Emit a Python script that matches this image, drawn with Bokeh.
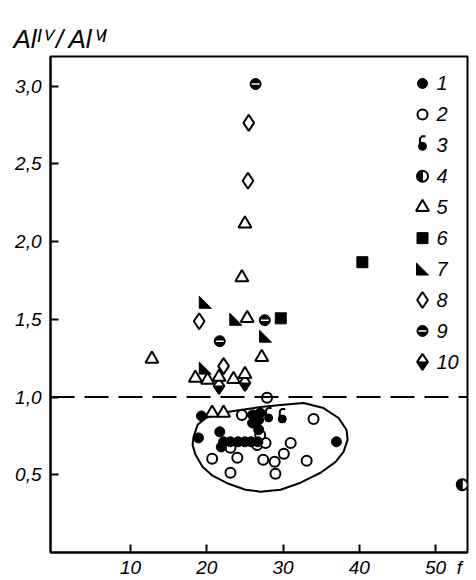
import numpy as np
from bokeh.plotting import figure
from bokeh.models import Span, FixedTicker
from bokeh.embed import file_html
from bokeh.resources import INLINE
from bokeh.core.properties import value

# ---------------- data ----------------
x_ticks = [10, 20, 30, 40, 50]
x_tick_labels = ["10", "20", "30", "40", "\u00a0\u00a0\u00a050\u00a0\u00a0f"]
y_ticks = [0.5, 1.0, 1.5, 2.0, 2.5, 3.0]
y_tick_labels = ["0,5", "1,0", "1,5", "2,0", "2,5", "3,0"]
y_title = "Al\u1d35\u2c7d\u2009/\u2009Al\u2c7d\u1d35"
threshold = 1.0

s1_x = [19.3, 18.9, 21.7, 21.9, 26.0, 26.8, 26.0, 27.0, 22.2, 23.1, 24.1, 25.0, 25.8, 26.7, 26.8, 37.0]
s1_y = [0.878, 0.737, 0.776, 0.679, 0.885, 0.853, 0.833, 0.897, 0.712, 0.712, 0.712, 0.712, 0.712, 0.712, 0.790, 0.712]

s2_x = [27.9, 24.6, 34.0, 23.1, 20.7, 24.0, 23.1, 26.6, 27.7, 31.0, 30.1, 28.9, 27.4, 29.0, 33.1, 27.0]
s2_y = [0.996, 0.885, 0.859, 0.673, 0.603, 0.609, 0.513, 0.692, 0.705, 0.705, 0.635, 0.583, 0.596, 0.506, 0.590, 0.756]

s3_x = [28.1, 29.9]
s3_y = [0.872, 0.865]

s4_x = [53.5]
s4_y = [0.436]

s5_x = [25.0, 24.6, 25.3, 27.2, 12.8, 18.5, 20.1, 21.6, 23.5, 25.0, 20.7, 22.2]
s5_y = [2.115, 1.769, 1.506, 1.256, 1.244, 1.122, 1.109, 1.128, 1.115, 1.147, 0.897, 0.897]

s6_x = [29.7, 40.4]
s6_y = [1.506, 1.867]

s7_x = [19.8, 23.8, 27.7, 19.8]
s7_y = [1.609, 1.500, 1.391, 1.186]

s8_x = [25.5, 25.4, 19.0, 22.2]
s8_y = [2.763, 2.391, 1.487, 1.199]

s9_x = [26.4, 27.6, 21.7]
s9_y = [3.013, 1.494, 1.359]

s10_x = [21.6, 25.0]
s10_y = [1.071, 1.090]

env_x = [18.26, 18.79, 19.84, 21.80, 24.43, 27.05, 29.67, 32.69, 35.31, 37.28, 38.33, 38.46,
         37.93, 36.89, 34.92, 32.30, 29.67, 27.05, 25.08, 22.85, 20.75, 19.44, 18.52, 18.13, 18.26]
env_y = [0.744, 0.821, 0.865, 0.897, 0.917, 0.936, 0.949, 0.962, 0.929, 0.865, 0.788, 0.724,
         0.647, 0.583, 0.513, 0.449, 0.404, 0.391, 0.404, 0.442, 0.494, 0.551, 0.628, 0.692, 0.744]

legend_labels = ["1", "2", "3", "4", "5", "6", "7", "8", "9", "10"]

# ---------------- geometry ----------------
W, H = 476, 580
BL, BR, BT, BB = 50, 9, 56, 27
X0 = -0.5
FW = W - BL - BR
FH = H - BT - BB
PX_X = 7.625
X1 = X0 + FW / PX_X
Y0, Y1 = 0.0, 3.19
PX_Y = FH / (Y1 - Y0)

FONT = "Liberation Sans"


def dx(n):
    return n / PX_X


def dy(n):
    return n / PX_Y


def page_x(px):
    return X0 + (px - BL) / PX_X


def page_y(py):
    return Y1 - (py - BT) / PX_Y


p = figure(width=W, height=H, x_range=(X0, X1), y_range=(Y0, Y1),
           min_border_left=BL, min_border_right=BR, min_border_top=BT, min_border_bottom=BB,
           output_backend="svg", toolbar_location=None)
p.background_fill_color = "white"
p.border_fill_color = "white"
p.outline_line_color = "black"
p.outline_line_width = 2
p.xgrid.visible = False
p.ygrid.visible = False

p.title.text = y_title
p.title.text_font = FONT
p.title.text_font_style = "italic"
p.title.text_font_size = "26px"
p.title.text_color = "black"
p.title.align = "left"
p.title.offset = -37
p.title.standoff = 6

for ax in (p.xaxis[0], p.yaxis[0]):
    ax.axis_line_width = 2
    ax.axis_line_color = "black"
    ax.major_tick_in = 8
    ax.major_tick_out = 0
    ax.major_tick_line_width = 2
    ax.minor_tick_line_color = None
    ax.major_label_text_font = FONT
    ax.major_label_text_font_style = "italic"
    ax.major_label_text_font_size = "19px"
    ax.major_label_text_color = "black"

p.xaxis.ticker = FixedTicker(ticks=x_ticks)
p.xaxis.major_label_overrides = {t: s for t, s in zip(x_ticks, x_tick_labels)}
p.xaxis.major_label_standoff = 4
p.yaxis.ticker = FixedTicker(ticks=y_ticks)
p.yaxis.major_label_overrides = {t: s for t, s in zip(y_ticks, y_tick_labels)}
p.yaxis.major_label_standoff = 9

# dashed threshold line
p.add_layout(Span(location=threshold, dimension="width", line_color="black",
                  line_width=2, line_dash="24 10"))

# envelope
p.line(env_x, env_y, line_color="black", line_width=2)

LW = 2


def draw(kind, xs, ys):
    xs = list(xs)
    ys = list(ys)
    if kind == 1:
        p.scatter(xs, ys, marker="circle", size=10, fill_color="black", line_color="black", line_width=1)
    elif kind == 2:
        p.scatter(xs, ys, marker="circle", size=10, fill_color="white", line_color="black", line_width=LW)
    elif kind == 3:
        p.scatter(xs, [y - dy(1) for y in ys], marker="circle", size=8, fill_color="black", line_color="black")
        tx = [[x + dx(a) for a in (-2.5, -2.5, -0.5, 3)] for x in xs]
        ty = [[y + dy(b) for b in (0, 7, 9, 9)] for y in ys]
        p.multi_line(tx, ty, line_color="black", line_width=2)
    elif kind == 4:
        p.scatter(xs, ys, marker="circle", size=11, fill_color="white", line_color="black", line_width=LW)
        p.wedge(x=xs, y=ys, radius=5.5, radius_units="screen", start_angle=np.pi / 2,
                end_angle=3 * np.pi / 2, fill_color="black", line_color="black")
    elif kind == 5:
        p.scatter(xs, ys, marker="triangle", size=13, fill_color="white", line_color="black", line_width=LW)
    elif kind == 6:
        p.scatter(xs, ys, marker="square", size=11, fill_color="black", line_color="black")
    elif kind == 7:
        h = 6
        pxs = [[x - dx(h), x - dx(h), x + dx(h)] for x in xs]
        pys = [[y + dy(h), y - dy(h), y - dy(h)] for y in ys]
        p.patches(pxs, pys, fill_color="black", line_color="black", line_width=1)
    elif kind == 8:
        p.scatter(xs, ys, marker="diamond", size=16, fill_color="white", line_color="black", line_width=LW)
    elif kind == 9:
        p.scatter(xs, ys, marker="circle", size=11, fill_color="black", line_color="black")
        p.scatter(xs, ys, marker="dash", size=8, line_color="white", line_width=1.5)
    elif kind == 10:
        p.scatter(xs, ys, marker="diamond", size=16, fill_color="white", line_color="black", line_width=LW)
        w = 16 / 1.5 / 2
        h = 8
        pxs = [[x - dx(w), x + dx(w), x] for x in xs]
        pys = [[y, y, y - dy(h)] for y in ys]
        p.patches(pxs, pys, fill_color="black", line_color="black", line_width=1)


series = {1: (s1_x, s1_y), 2: (s2_x, s2_y), 3: (s3_x, s3_y), 4: (s4_x, s4_y),
          5: (s5_x, s5_y), 6: (s6_x, s6_y), 7: (s7_x, s7_y), 8: (s8_x, s8_y),
          9: (s9_x, s9_y), 10: (s10_x, s10_y)}

for k in [10, 8, 5, 7, 9, 6, 2, 1, 3, 4]:
    draw(k, *series[k])

# legend (manual, inside plot at right)
LEG_X = page_x(422)
LEG_TX = page_x(436)
LEG_Y0 = page_y(83)
LEG_STEP = 31 / PX_Y
leg_y = [LEG_Y0 - i * LEG_STEP for i in range(len(legend_labels))]
for i, k in enumerate(range(1, 11)):
    draw(k, [LEG_X], [leg_y[i]])
p.text(x=[LEG_TX] * len(legend_labels), y=leg_y, text=legend_labels,
       text_font=value(FONT), text_font_style="italic", text_font_size="20px",
       text_baseline="middle", text_align="left", text_color="black")

open("out.html", "w").write(file_html(p, INLINE))
